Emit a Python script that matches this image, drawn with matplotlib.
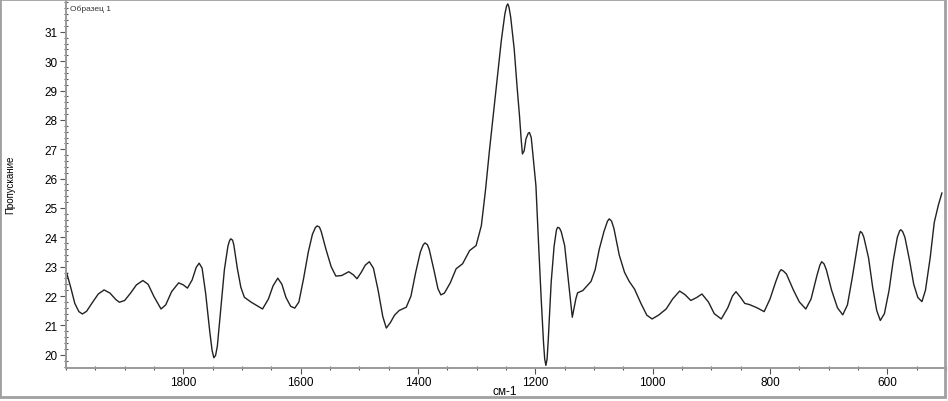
import matplotlib
matplotlib.use("Agg")
import matplotlib.pyplot as plt
from matplotlib.ticker import MultipleLocator
from matplotlib.patches import Rectangle

plt.rcParams.update({
    "font.family": ["Liberation Sans", "DejaVu Sans"],
    "font.size": 8.5,
})

# IR spectrum: wavenumber (cm-1) and transmission
wavenumber = [
    2000, 1992, 1985, 1978, 1972, 1965, 1955, 1945, 1935, 1925, 1915, 1909,
    1900, 1890, 1880, 1869, 1860, 1850, 1838, 1830, 1820, 1808, 1800, 1793,
    1785, 1778, 1773, 1768, 1762, 1755, 1751, 1748, 1745, 1742, 1736, 1730,
    1724, 1721, 1719, 1716, 1714, 1708, 1702, 1696, 1685, 1675, 1665, 1655,
    1647, 1639, 1632, 1625, 1617, 1610, 1603, 1595, 1587, 1580, 1575, 1572,
    1568, 1565, 1557, 1548, 1540, 1530, 1518, 1510, 1504, 1497, 1490, 1483,
    1476, 1468, 1460, 1454, 1447, 1440, 1432, 1420, 1412, 1404, 1396, 1391,
    1388, 1384, 1381, 1373, 1366, 1361, 1355, 1345, 1335, 1324, 1312, 1301,
    1292, 1285, 1278, 1271, 1264, 1258, 1252, 1249, 1247, 1245, 1242, 1236,
    1231, 1227, 1224, 1222, 1219, 1216, 1212, 1210, 1207, 1205, 1199, 1195,
    1190, 1186, 1184, 1182, 1180, 1178, 1173, 1168, 1164, 1162, 1159, 1156,
    1150, 1144, 1137, 1131, 1128, 1119, 1105, 1098, 1091, 1083, 1077, 1074,
    1070, 1066, 1057, 1048, 1040, 1031, 1020, 1010, 1001, 990, 977, 966,
    954, 945, 935, 925, 916, 905, 895, 883, 872, 864, 858, 850,
    843, 835, 822, 810, 800, 790, 784, 781, 777, 772, 760, 750,
    739, 730, 720, 715, 712, 708, 704, 695, 685, 676, 668, 660,
    652, 648, 646, 643, 640, 632, 625, 618, 612, 605, 597, 590,
    583, 579, 577, 574, 570, 562, 555, 548, 541, 535, 527, 520,
    513, 507,
]
transmission = [
    22.87, 22.30, 21.75, 21.47, 21.39, 21.48, 21.78, 22.07, 22.21, 22.10, 21.88, 21.79,
    21.85, 22.10, 22.38, 22.53, 22.40, 21.98, 21.56, 21.70, 22.15, 22.45, 22.38, 22.27,
    22.55, 22.98, 23.12, 22.95, 22.10, 20.80, 20.15, 19.90, 19.98, 20.30, 21.60, 22.90,
    23.70, 23.90, 23.95, 23.90, 23.75, 22.95, 22.30, 21.96, 21.80, 21.68, 21.56, 21.90,
    22.35, 22.61, 22.40, 21.95, 21.65, 21.59, 21.80, 22.60, 23.50, 24.10, 24.33, 24.39,
    24.35, 24.20, 23.60, 23.00, 22.68, 22.70, 22.83, 22.72, 22.59, 22.80, 23.05, 23.17,
    22.95, 22.20, 21.30, 20.91, 21.10, 21.35, 21.51, 21.62, 22.00, 22.80, 23.50, 23.75,
    23.81, 23.75, 23.60, 22.90, 22.25, 22.04, 22.10, 22.45, 22.93, 23.10, 23.55, 23.72,
    24.40, 25.60, 27.00, 28.30, 29.61, 30.70, 31.60, 31.88, 31.95, 31.85, 31.50, 30.41,
    29.10, 28.14, 27.30, 26.84, 26.95, 27.35, 27.55, 27.57, 27.40, 27.00, 25.76, 24.00,
    21.90, 20.40, 19.85, 19.64, 19.85, 20.50, 22.47, 23.70, 24.25, 24.34, 24.32, 24.20,
    23.72, 22.60, 21.28, 21.90, 22.11, 22.19, 22.50, 22.90, 23.60, 24.20, 24.55, 24.63,
    24.55, 24.30, 23.40, 22.81, 22.50, 22.24, 21.75, 21.35, 21.22, 21.35, 21.56, 21.90,
    22.17, 22.05, 21.85, 21.95, 22.07, 21.80, 21.40, 21.22, 21.60, 22.00, 22.15, 21.95,
    21.75, 21.71, 21.60, 21.47, 21.90, 22.50, 22.82, 22.90, 22.85, 22.75, 22.20, 21.80,
    21.56, 21.90, 22.70, 23.05, 23.17, 23.10, 22.90, 22.20, 21.60, 21.36, 21.70, 22.60,
    23.60, 24.08, 24.20, 24.15, 24.00, 23.30, 22.30, 21.50, 21.17, 21.40, 22.20, 23.20,
    24.00, 24.22, 24.26, 24.20, 24.00, 23.20, 22.40, 21.95, 21.81, 22.20, 23.30, 24.51,
    25.10, 25.51,
]
x_ticks = [1800, 1600, 1400, 1200, 1000, 800, 600]
y_ticks = [20, 21, 22, 23, 24, 25, 26, 27, 28, 29, 30, 31]

fig = plt.figure(figsize=(9.48, 4.02), dpi=100)
ax = fig.add_axes([66 / 948, 33 / 402, 880 / 948, 367 / 402])

ax.plot(wavenumber, transmission, color="#222222", linewidth=1.0)

ax.set_xlim(2000, 500)
ax.set_ylim(19.55, 32.05)
ax.set_xticks(x_ticks)
ax.set_yticks(y_ticks)
ax.xaxis.set_minor_locator(MultipleLocator(50))
ax.yaxis.set_minor_locator(MultipleLocator(0.2))

for side in ["top", "right"]:
    ax.spines[side].set_visible(False)
for side in ["left", "bottom"]:
    ax.spines[side].set_color("#9a9a9a")
    ax.spines[side].set_linewidth(1.4)

ax.tick_params(which="major", direction="out", length=4, width=0.8,
               color="#555555", labelsize=8.5, pad=2)
ax.tick_params(which="minor", direction="inout", length=2.5, width=0.8,
               color="#555555")

ax.text(0.005, 0.99, "Образец 1", transform=ax.transAxes, fontsize=6,
        ha="left", va="top", color="#333333")
fig.text(505 / 948, 1 - 392 / 402, "см-1", fontsize=8.5, ha="center",
         va="center")
fig.text(10 / 948, 1 - 185 / 402, "Пропускание", fontsize=7,
         rotation=90, ha="center", va="center")

# grey window frame around the figure
fig.patches.append(Rectangle((0, 0.01), 0.997, 0.99, transform=fig.transFigure,
                             fill=False, edgecolor="#a0a0a0", linewidth=2))

fig.savefig("out.png", dpi=100)
